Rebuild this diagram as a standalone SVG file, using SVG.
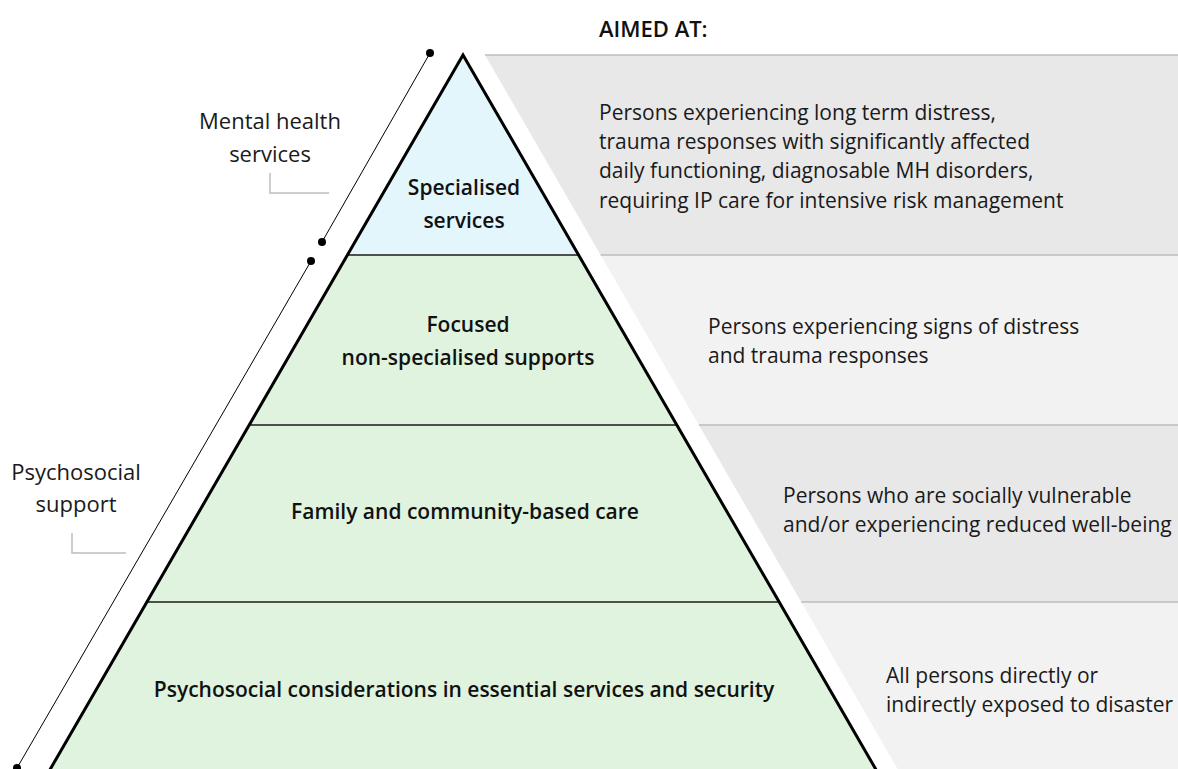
<svg xmlns="http://www.w3.org/2000/svg" width="1178" height="769" viewBox="0 0 1178 769">
<style>
  .band-dark { fill: #e8e8e8; }
  .band-light { fill: #f2f2f2; }
  .band-line { stroke: #bcbcbc; stroke-width: 1.5; fill: none; }
  .tier-blue { fill: #e3f6fc; }
  .tier-green { fill: #e0f3df; }
  .divider { stroke: #1a1a1a; stroke-width: 1.5; fill: none; }
  .outline { stroke: #000; stroke-width: 3; fill: none; stroke-linejoin: miter; }
  .bracket { stroke: #000; stroke-width: 1; fill: none; }
  .dot { fill: #000; }
  .tick { stroke: #bdbdbd; stroke-width: 1.5; fill: none; }
  .tier-label { font-family: "Open Sans", "Noto Sans", sans-serif; font-weight: 600; font-size: 21px; fill: #111; text-anchor: middle; }
  .side-label { font-family: "Open Sans", "Noto Sans", sans-serif; font-weight: 400; font-size: 22px; fill: #1a1a1a; text-anchor: middle; }
  .aim { font-family: "Open Sans", "Noto Sans", sans-serif; font-weight: 400; font-size: 21px; fill: #1a1a1a; }
  .title { font-family: "Open Sans", "Noto Sans", sans-serif; font-weight: 600; font-size: 22px; fill: #111; }
</style>
<rect width="1178" height="769" fill="#ffffff"/>

<g id="aimed-at-band">
  <polygon class="band-dark" points="485,55 1178,55 1178,255 600.6,255"/>
  <polygon class="band-light" points="600.6,255 1178,255 1178,425 698.9,425"/>
  <polygon class="band-dark" points="698.9,425 1178,425 1178,602 801.2,602"/>
  <polygon class="band-light" points="801.2,602 1178,602 1178,780 904,780"/>
  <line class="band-line" x1="485" y1="55" x2="1178" y2="55"/>
  <line class="band-line" x1="600.6" y1="255" x2="1178" y2="255"/>
  <line class="band-line" x1="698.9" y1="425" x2="1178" y2="425"/>
  <line class="band-line" x1="801.2" y1="602" x2="1178" y2="602"/>
</g>

<g id="title">
  <text class="title" x="599" y="37">AIMED AT:</text>
</g>

<g id="tier-specialised">
  <polygon class="tier-blue" points="463,55 578.6,255 347.4,255"/>
  <text class="tier-label" x="464" y="195">Specialised</text>
  <text class="tier-label" x="464" y="228">services</text>
</g>

<g id="tier-focused">
  <polygon class="tier-green" points="347.4,255 578.6,255 676.9,425 249.1,425"/>
  <text class="tier-label" x="468" y="332">Focused</text>
  <text class="tier-label" x="468" y="365">non-specialised supports</text>
</g>

<g id="tier-family">
  <polygon class="tier-green" points="249.1,425 676.9,425 779.2,602 146.8,602"/>
  <text class="tier-label" x="465" y="519">Family and community-based care</text>
</g>

<g id="tier-basic">
  <polygon class="tier-green" points="146.8,602 779.2,602 882,780 44,780"/>
  <text class="tier-label" x="464" y="697">Psychosocial considerations in essential services and security</text>
</g>

<g id="pyramid-lines">
  <line class="divider" x1="347.4" y1="255" x2="578.6" y2="255"/>
  <line class="divider" x1="249.1" y1="425" x2="676.9" y2="425"/>
  <line class="divider" x1="146.8" y1="602" x2="779.2" y2="602"/>
  <polyline class="outline" points="44,780 463,55 882,780"/>
</g>

<g id="aim-specialised">
  <text class="aim" x="599" y="120">Persons experiencing long term distress,</text>
  <text class="aim" x="599" y="149">trauma responses with significantly affected</text>
  <text class="aim" x="599" y="178">daily functioning, diagnosable MH disorders,</text>
  <text class="aim" x="599" y="208">requiring IP care for intensive risk management</text>
</g>

<g id="aim-focused">
  <text class="aim" x="708" y="334">Persons experiencing signs of distress</text>
  <text class="aim" x="708" y="363">and trauma responses</text>
</g>

<g id="aim-family">
  <text class="aim" x="783" y="503">Persons who are socially vulnerable</text>
  <text class="aim" x="783" y="532">and/or experiencing reduced well-being</text>
</g>

<g id="aim-basic">
  <text class="aim" x="886" y="683">All persons directly or</text>
  <text class="aim" x="886" y="712">indirectly exposed to disaster</text>
</g>

<g id="label-mental-health">
  <text class="side-label" x="270" y="129">Mental health</text>
  <text class="side-label" x="270" y="162">services</text>
  <path class="tick" d="M270,173 V193 H329"/>
</g>

<g id="label-psychosocial">
  <text class="side-label" x="76" y="480">Psychosocial</text>
  <text class="side-label" x="76" y="512">support</text>
  <path class="tick" d="M72,533 V553 H126"/>
</g>

<g id="connectors">
  <line class="bracket" x1="430" y1="53" x2="322" y2="242"/>
  <circle class="dot" cx="430" cy="53" r="4"/>
  <circle class="dot" cx="322" cy="242" r="4"/>
  <line class="bracket" x1="311" y1="261" x2="17" y2="768"/>
  <circle class="dot" cx="311" cy="261" r="4"/>
  <circle class="dot" cx="17" cy="768" r="4"/>
</g>
</svg>
